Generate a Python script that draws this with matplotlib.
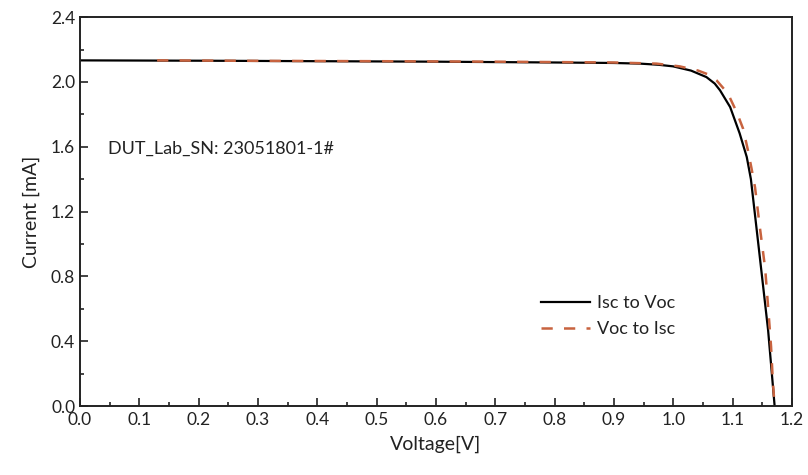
import matplotlib.pyplot as plt
from matplotlib.ticker import MultipleLocator

plt.rcParams['font.family'] = ['Lato', 'DejaVu Sans']

# I-V sweep, forward (Isc -> Voc)
v_fwd = [0.0, 0.2, 0.4, 0.6, 0.8, 0.9, 0.944, 0.975, 1.000, 1.030, 1.056, 1.070, 1.079,
         1.096, 1.112, 1.124, 1.131, 1.146, 1.160, 1.171]
i_fwd = [2.133, 2.131, 2.128, 2.125, 2.120, 2.117, 2.113, 2.106, 2.096, 2.070, 2.030, 1.990, 1.948,
         1.845, 1.683, 1.537, 1.400, 0.920, 0.468, 0.0]

# reverse sweep (Voc -> Isc)
v_rev = [0.13, 0.3, 0.5, 0.7, 0.9, 0.972, 1.011, 1.042, 1.060, 1.073, 1.092, 1.107, 1.118,
         1.126, 1.132, 1.138, 1.146, 1.155, 1.160, 1.165, 1.168, 1.171]
i_rev = [2.133, 2.130, 2.128, 2.125, 2.120, 2.113, 2.096, 2.070, 2.045, 2.010, 1.930, 1.814, 1.710,
         1.578, 1.467, 1.348, 1.105, 0.850, 0.612, 0.366, 0.150, 0.0]

fig = plt.figure(figsize=(8.08, 4.75), dpi=100)
ax = fig.add_axes([0.099, 0.145, 0.881, 0.819])

ax.plot(v_fwd, i_fwd, color='black', linewidth=1.6, label='Isc to Voc')
ax.plot(v_rev, i_rev, color='#c8633f', linewidth=1.8, dashes=(4.5, 4.5), label='Voc to Isc')

ax.set_xlim(0, 1.2)
ax.set_ylim(0, 2.4)
ax.xaxis.set_major_locator(MultipleLocator(0.1))
ax.xaxis.set_minor_locator(MultipleLocator(0.05))
ax.yaxis.set_major_locator(MultipleLocator(0.4))
ax.yaxis.set_minor_locator(MultipleLocator(0.2))
ax.tick_params(which='both', direction='in', width=1.2, labelsize=12.5,
               color='#222222', labelcolor='#222222')
ax.tick_params(which='major', length=6)
ax.tick_params(which='minor', length=3)
ax.tick_params(axis='x', pad=4)
for s in ax.spines.values():
    s.set_linewidth(1.4)
    s.set_color('#222222')

ax.set_xlabel('Voltage[V]', fontsize=14, labelpad=6, color='#222222')
ax.set_ylabel('Current [mA]', fontsize=14, labelpad=8, color='#222222')

ax.text(0.047, 1.59, 'DUT_Lab_SN: 23051801-1#', fontsize=13, va='center', color='#222222')

ax.legend(loc='lower left', bbox_to_anchor=(0.625, 0.135), frameon=False, fontsize=13,
          handlelength=2.7, handletextpad=0.4, labelspacing=0.55, labelcolor='#222222')

fig.savefig('out.png', dpi=100)
